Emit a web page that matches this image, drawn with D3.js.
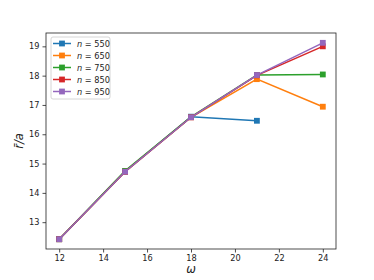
<!DOCTYPE html>
<html><head><meta charset="utf-8">
<script src="https://cdn.jsdelivr.net/npm/d3@7"></script>
<style>body{margin:0;background:#fff}svg{display:block}text{font-family:"DejaVu Sans",sans-serif}</style>
</head><body><svg id="c" width="374" height="280"></svg>
<script>
const omega = [12, 15, 18, 21, 24];
const seriesNames = ["550", "650", "750", "850", "950"];
const colors = ["#1f77b4", "#ff7f0e", "#2ca02c", "#d62728", "#9467bd"];
const s550 = [12.42, 14.73, 16.60, 16.46];
const s650 = [12.42, 14.72, 16.58, 17.88, 16.94];
const s750 = [12.42, 14.75, 16.59, 18.02, 18.04];
const s850 = [12.42, 14.72, 16.58, 18.01, 19.00];
const s950 = [12.42, 14.72, 16.58, 18.02, 19.12];
const allSeries = [s550, s650, s750, s850, s950];
const xTicks = [12, 14, 16, 18, 20, 22, 24];
const yTicks = [13, 14, 15, 16, 17, 18, 19];

const svg = d3.select("#c");
const L = 46, R = 336, T = 33, B = 249;
const x = d3.scaleLinear().domain([11.4, 24.6]).range([L, R]);
const y = d3.scaleLinear().domain([12.085, 19.455]).range([B, T]);
const ms = 5.8;

const line = d3.line().x((d, i) => x(omega[i])).y(d => y(d));
allSeries.forEach((s, k) => {
  const g = svg.append("g");
  g.append("path").attr("d", line(s)).attr("fill", "none")
    .attr("stroke", colors[k]).attr("stroke-width", 1.5);
  g.selectAll("rect").data(s).join("rect")
    .attr("x", (d, i) => x(omega[i]) - ms / 2).attr("y", d => y(d) - ms / 2)
    .attr("width", ms).attr("height", ms).attr("fill", colors[k]);
});

const xa = svg.append("g").attr("transform", `translate(0,${B})`)
  .call(d3.axisBottom(x).tickValues(xTicks).tickSize(3.5).tickPadding(3).tickFormat(d3.format("d")));
const ya = svg.append("g").attr("transform", `translate(${L},0)`)
  .call(d3.axisLeft(y).tickValues(yTicks).tickSize(3.5).tickPadding(3).tickFormat(d3.format("d")));
[xa, ya].forEach(a => {
  a.select(".domain").remove();
  a.selectAll("text").attr("font-size", 8.2).attr("fill", "#222").style("font-family", "DejaVu Sans");
  a.selectAll("line").attr("stroke", "#222").attr("stroke-width", 0.8);
});
svg.append("rect").attr("x", L).attr("y", T).attr("width", R - L).attr("height", B - T)
  .attr("fill", "none").attr("stroke", "#222").attr("stroke-width", 0.8);

// legend
const lg = svg.append("g");
lg.append("rect").attr("x", 51).attr("y", 37).attr("width", 59).attr("height", 62).attr("rx", 2)
  .attr("fill", "#fff").attr("fill-opacity", 0.8).attr("stroke", "#ccc").attr("stroke-width", 0.8);
seriesNames.forEach((n, k) => {
  const yy = 43.5 + k * 12;
  lg.append("line").attr("x1", 53).attr("x2", 71).attr("y1", yy).attr("y2", yy)
    .attr("stroke", colors[k]).attr("stroke-width", 1.5);
  lg.append("rect").attr("x", 62 - ms / 2).attr("y", yy - ms / 2).attr("width", ms).attr("height", ms).attr("fill", colors[k]);
  const t = lg.append("text").attr("x", 77).attr("y", yy + 3).attr("font-size", 8.2).attr("fill", "#222");
  t.append("tspan").attr("font-style", "italic").text("n");
  t.append("tspan").text(" = " + n);
});

svg.append("text").attr("x", (L + R) / 2).attr("y", 273).attr("text-anchor", "middle")
  .attr("font-size", 11.5).attr("font-style", "italic").attr("fill", "#222").text("ω");
const yl = svg.append("text").attr("transform", `translate(23,${(T + B) / 2}) rotate(-90)`)
  .attr("text-anchor", "middle").attr("font-size", 11.5).attr("font-style", "italic").attr("fill", "#222");
yl.append("tspan").text("r\u0304");
yl.append("tspan").text("/a");
</script></body></html>
